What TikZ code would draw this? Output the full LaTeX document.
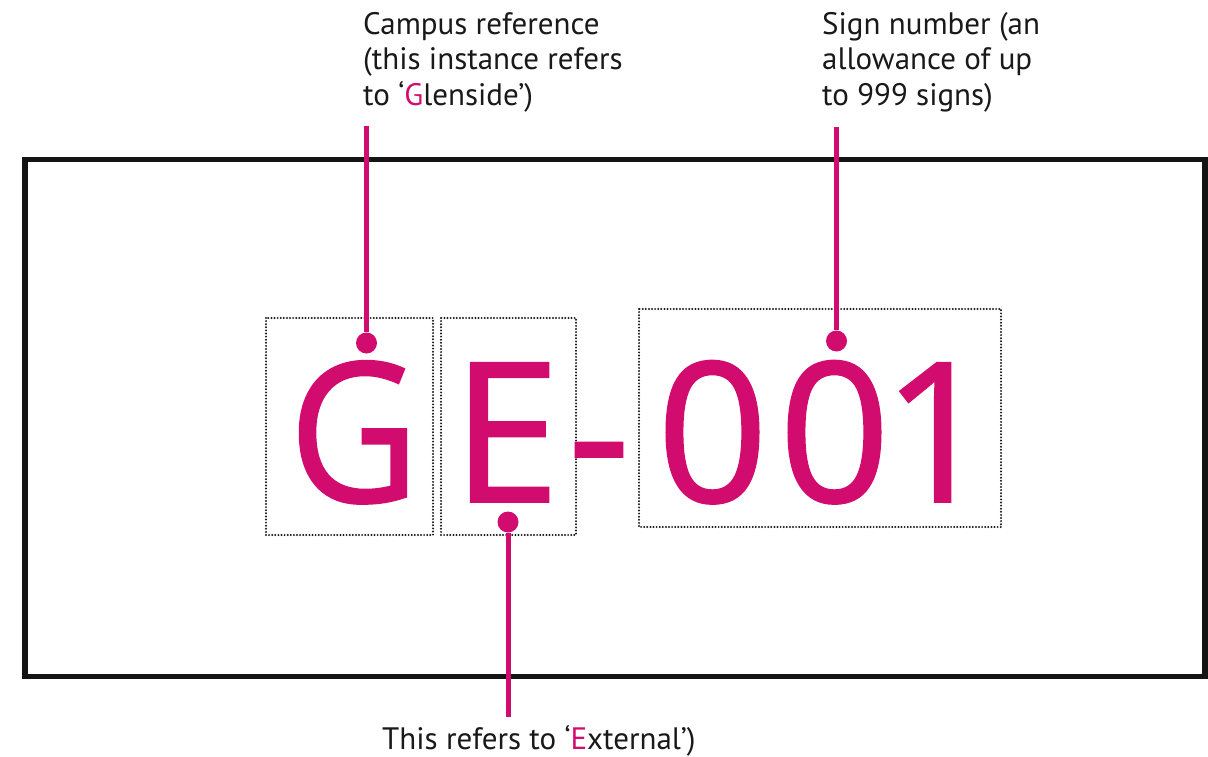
\documentclass[tikz,border=0pt]{standalone}
\usepackage{fontspec}
\usepackage{graphicx}
\setmainfont{PT Sans}
\newfontfamily\bigfont[FakeBold=1]{Open Sans}
\definecolor{mag}{HTML}{D20C6E}
\definecolor{dotgray}{HTML}{1A1A1A}
\begin{document}
\begin{tikzpicture}[x=1pt,y=-1pt,
  lbl/.style={inner sep=0pt,align=left,font=\fontsize{31}{35.5}\selectfont,text=black!90},
  big/.style={inner sep=0pt,anchor=base,text=mag,font=\bigfont\fontsize{195}{195}\selectfont},
  dotbox/.style={draw=dotgray,line width=2.2pt,line cap=round,dash pattern=on 0pt off 3.1pt},
  lead/.style={draw=mag,line width=5pt},
  pin/.style={circle,fill=mag,inner sep=0pt,minimum size=21pt}]
\useasboundingbox (0,0) rectangle (1208,757);
\fill[white] (0,0) rectangle (1208,757);
% outer frame
\draw[line width=5.5pt,black!92] (25,159.5) rectangle (1205,676.5);
% dotted boxes
\draw[dotbox] (266,318) rectangle (433,535);
\draw[dotbox] (441,318) rectangle (576,535);
\draw[dotbox] (639,309) rectangle (1001,527);
% big code
\node[big] (g) at (354,502) {\scalebox{0.92}[1]{G}};
\node[big] (e) at (506,502) {E};
\node[big] (h) at (599,502) {-};
\node[big] (z1) at (712.5,502) {0};
\node[big] (z2) at (834.5,502) {0};
\node[big] (one) at (938,502) {1};
% labels
\node[lbl,anchor=north west] (lcampus) at (363,12) {Campus reference\\(this instance refers\\to ‘\textcolor{mag}{G}lenside’)};
\node[lbl,anchor=north west] (lsign) at (822,12) {Sign number (an\\allowance of up\\to 999 signs)};
\node[lbl,anchor=base west] (lext) at (382,749) {This refers to ‘\textcolor{mag}{E}xternal’)};
% pins and leads
\node[pin] (gdot) at (366.5,343) {};
\node[pin] (edot) at (508,522) {};
\node[pin] (ndot) at (836.5,341) {};
\coordinate (gtop) at (366.5,126);
\coordinate (ntop) at (836.5,127);
\coordinate (ebot) at (508,717);
\draw[lead] (gtop) -- (gdot);
\draw[lead] (ntop) -- (ndot);
\draw[lead] (edot) -- (ebot);
\end{tikzpicture}
\end{document}
